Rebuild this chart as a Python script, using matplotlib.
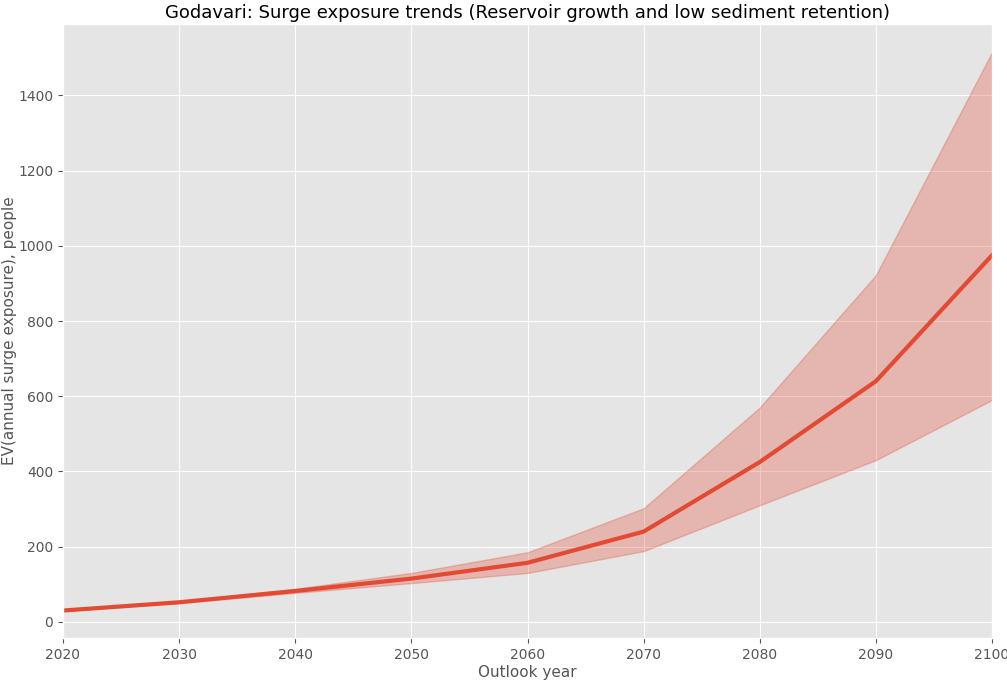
import matplotlib
matplotlib.use("Agg")
import matplotlib.pyplot as plt

plt.style.use("ggplot")

years = [2020, 2030, 2040, 2050, 2060, 2070, 2080, 2090, 2100]
mean_exposure = [30, 52, 82, 115, 157, 240, 425, 640, 975]
lower_bound = [29, 50, 77, 103, 130, 188, 310, 430, 590]
upper_bound = [32, 54, 88, 130, 185, 302, 570, 922, 1515]

fig = plt.figure(figsize=(10.07, 6.83), dpi=100)
ax = fig.add_axes([63 / 1007, 45 / 683, 929 / 1007, 614 / 683])

ax.fill_between(years, lower_bound, upper_bound, color="#E24A33", alpha=0.3, linewidth=1)
ax.plot(years, mean_exposure, color="#E24A33", linewidth=3)

ax.set_xlim(2020, 2100)
ax.set_ylim(-43, 1590)
ax.set_xticks(years)
ax.set_xlabel("Outlook year", fontsize=11, labelpad=2)
ax.set_ylabel("EV(annual surge exposure), people", fontsize=11, labelpad=1)
ax.set_title("Godavari: Surge exposure trends (Reservoir growth and low sediment retention)",
             fontsize=13, pad=4)

fig.savefig("out.png", dpi=100)
